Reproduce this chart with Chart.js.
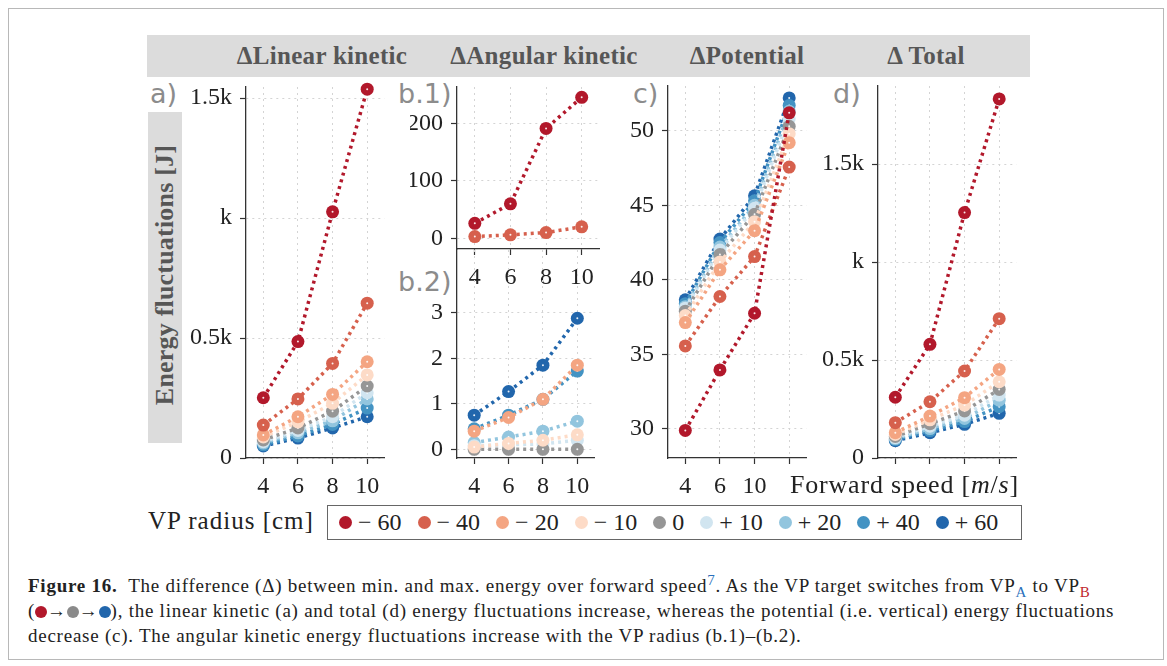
<!DOCTYPE html>
<html>
<head>
<meta charset="utf-8">
<script src="https://cdn.jsdelivr.net/npm/chart.js@4.4.1/dist/chart.umd.min.js"></script>
<style>
  body { margin: 0; width: 1167px; height: 666px; background: #fff; position: relative; overflow: hidden;
         font-family: "Liberation Serif", serif; color: #222; }
  .abs { position: absolute; }
  .frame { left: 8px; top: 8px; width: 1154px; height: 650px; border: 1px solid #b8b8b8; }
  .band { left: 147px; top: 35px; width: 883px; height: 42px; background: #dcdcdc; }
  .title { top: 35px; height: 42px; line-height: 42px; font-weight: bold; font-size: 25px; color: #565656;
           text-align: center; white-space: nowrap; letter-spacing: 0.3px; }
  .plab { font-family: "DejaVu Sans", sans-serif; font-size: 27px; color: #8c8c8c; line-height: 1; }
  .ybox { left: 148px; top: 112px; width: 34px; height: 331px; background: #dcdcdc; }
  .ytext { position: absolute; left: 17px; top: 163px; transform: translate(-50%, -50%) rotate(-90deg);
           white-space: nowrap; font-weight: bold; font-size: 26px; color: #565656; letter-spacing: 0.2px; }
  canvas { position: absolute; }
  .legend { left: 327px; top: 505px; width: 682px; height: 33px; border: 1.5px solid #666;
            display: flex; align-items: center; padding-left: 11px; box-sizing: content-box; }
  .item { display: flex; align-items: center; margin-right: 16px; font-size: 24px; white-space: nowrap; }
  .dot { display: inline-block; width: 13px; height: 13px; border-radius: 50%; margin-right: 6px; }
  .caption { left: 28px; top: 573px; font-size: 19px; line-height: 25px; white-space: nowrap; color: #222;
             letter-spacing: 0.75px; }
  .caption sub, .caption sup { font-size: 15px; line-height: 0; }
  .cdot { display: inline-block; width: 12px; height: 12px; border-radius: 50%; vertical-align: -1px; }
</style>
</head>
<body>
<div class="abs frame"></div>
<div class="abs band"></div>
<div class="abs title" style="left:222px;width:200px">ΔLinear kinetic</div>
<div class="abs title" style="left:444px;width:200px">ΔAngular kinetic</div>
<div class="abs title" style="left:647px;width:200px">ΔPotential</div>
<div class="abs title" style="left:826px;width:200px">Δ Total</div>

<div class="abs ybox"><div class="ytext">Energy fluctuations [J]</div></div>

<div class="abs plab" style="left:150px;top:80px">a)</div>
<div class="abs plab" style="left:398px;top:80px">b.1)</div>
<div class="abs plab" style="left:398px;top:268px">b.2)</div>
<div class="abs plab" style="left:633px;top:80px">c)</div>
<div class="abs plab" style="left:833px;top:80px">d)</div>

<canvas id="panelA" width="205" height="428" style="left:186px;top:70px"></canvas>
<canvas id="panelB1" width="196" height="219" style="left:410px;top:70px"></canvas>
<canvas id="panelB2" width="191" height="258" style="left:410px;top:240px"></canvas>
<canvas id="panelC" width="198" height="428" style="left:615px;top:70px"></canvas>
<canvas id="panelD" width="205" height="428" style="left:818px;top:70px"></canvas>

<div class="abs" style="left:790px;top:470px;font-size:26px;letter-spacing:0.8px;white-space:nowrap">Forward speed [<i>m</i>/<i>s</i>]</div>

<div class="abs" style="left:148px;top:507px;font-size:25px;letter-spacing:1px;white-space:nowrap">VP radius [cm]</div>
<div class="abs legend" id="legend"></div>

<div class="abs caption">
<b>Figure 16.</b>&nbsp; The difference (Δ) between min. and max. energy over forward speed<sup style="color:#2a6fbb">7</sup>. As the VP target switches from VP<sub style="color:#2a6fbb">A</sub> to VP<sub style="color:#c0272d">B</sub><br>
(<span class="cdot" style="background:#b2182b"></span>→<span class="cdot" style="background:#8a8a8a"></span>→<span class="cdot" style="background:#2166ac"></span>), the linear kinetic (a) and total (d) energy fluctuations increase, whereas the potential (i.e. vertical) energy fluctuations<br>
decrease (c). The angular kinetic energy fluctuations increase with the VP radius (b.1)–(b.2).
</div>

<script>
const speeds = [4, 6, 8, 10];
const radiusLabels = ['− 60', '− 40', '− 20', '− 10', '0', '+ 10', '+ 20', '+ 40', '+ 60'];
const radiusColors = ['#b2182b', '#d6604d', '#f4a582', '#fddbc7', '#969696', '#d1e5f0', '#92c5de', '#4393c3', '#2166ac'];

// one row per VP radius, one value per forward speed
const linearKinetic = [
    [251, 485, 1026, 1537],
    [137, 246, 394, 645],
    [96, 172, 265, 401],
    [88, 150, 228, 346],
    [75, 125, 195, 300],
    [68, 115, 172, 272],
    [62, 105, 155, 246],
    [55, 92, 140, 208],
    [50, 83, 125, 172]
];
// b.1 shows the two largest radii (-60, -40), b.2 the rest
const angularKinetic = [
    [26, 60, 191, 245],
    [3, 6, 10, 20],
    [0.4, 0.7, 1.1, 1.85],
    [0.05, 0.13, 0.2, 0.32],
    [0, 0, 0, 0],
    [0.08, 0.1, 0.12, 0.2],
    [0.15, 0.27, 0.4, 0.62],
    [0.45, 0.75, 1.1, 1.72],
    [0.75, 1.27, 1.85, 2.88]
];
const potential = [
    [29.9, 33.96, 37.76, 51.2],
    [35.57, 38.88, 41.56, 47.56],
    [37.13, 40.67, 43.3, 49.2],
    [37.6, 41.2, 43.9, 49.8],
    [37.9, 41.7, 44.4, 50.3],
    [38.1, 42.0, 44.8, 50.8],
    [38.2, 42.2, 45.0, 51.3],
    [38.4, 42.5, 45.3, 51.7],
    [38.66, 42.73, 45.64, 52.2]
];
const total = [
    [310, 580, 1252, 1832],
    [180, 287, 444, 711],
    [129, 214, 308, 452],
    [120, 195, 270, 389],
    [110, 175, 240, 350],
    [104, 162, 218, 321],
    [99, 150, 202, 295],
    [94, 140, 186, 262],
    [88, 129, 172, 228]
];

const kiloTicks = [0, 500, 1000, 1500];
const kiloTickLabels = ['0', '0.5k', 'k', '1.5k'];
const angularTopTicks = [0, 100, 200];
const angularLowTicks = [0, 1, 2, 3];
const potentialTicks = [30, 35, 40, 45, 50];
const potentialSpeedLabels = ['4', '6', '10', ''];

const tickFont = { family: "'Liberation Serif', serif", size: 24 };

// small white centre on each marker, drawn per dataset so covered markers stay covered
const centreDots = {
    id: 'centreDots',
    afterDatasetDraw(chart, args) {
        const { ctx, chartArea } = chart;
        ctx.save();
        ctx.fillStyle = 'rgba(255,255,255,0.9)';
        args.meta.data.forEach(pt => {
            if (pt.y < chartArea.top - 2 || pt.y > chartArea.bottom + 2) return;
            ctx.beginPath();
            ctx.arc(pt.x, pt.y, 1, 0, Math.PI * 2);
            ctx.fill();
        });
        ctx.restore();
    }
};

function makePanel(id, values, o) {
    const rows = o.rows || values.map((_, i) => i);
    const datasets = rows.map(i => ({
        label: radiusLabels[i],
        data: values[i].map((v, j) => ({ x: speeds[j], y: v })),
        borderColor: radiusColors[i],
        backgroundColor: radiusColors[i],
        borderWidth: 3.5,
        borderDash: [3, 4],
        pointRadius: 6.5,
        pointHoverRadius: 6.5,
        pointBorderWidth: 0,
        clip: false
    }));

    new Chart(document.getElementById(id), {
        type: 'line',
        data: { datasets },
        plugins: [centreDots],
        options: {
            animation: false,
            responsive: false,
            events: [],
            layout: { padding: { top: o.padTop, right: 6, left: 0, bottom: 0 } },
            plugins: { legend: { display: false }, tooltip: { enabled: false } },
            scales: {
                x: {
                    type: 'linear',
                    min: 3,
                    max: 11,
                    afterBuildTicks: s => { s.ticks = speeds.map(v => ({ value: v })); },
                    afterFit: s => { s.height = 40; s.paddingLeft = 0; s.paddingRight = 0; },
                    ticks: {
                        autoSkip: false, maxRotation: 0, padding: 8, color: '#222', font: tickFont,
                        callback: o.xLabel || (v => String(v))
                    },
                    grid: { color: '#d4d4d4', lineWidth: 1, tickLength: 6, tickColor: '#333', tickWidth: 1.2, tickBorderDash: [] },
                    border: { color: '#333', width: 1.3, dash: [2, 4] }
                },
                y: {
                    type: 'linear',
                    min: o.min,
                    max: o.max,
                    afterBuildTicks: s => { s.ticks = o.ticks.map(v => ({ value: v })); },
                    afterFit: s => { s.width = o.yW; s.paddingTop = 0; s.paddingBottom = 0; },
                    ticks: {
                        autoSkip: false, padding: 8, color: '#222', font: tickFont,
                        callback: (v, i) => o.labels ? o.labels[i] : String(v)
                    },
                    grid: { color: '#d4d4d4', lineWidth: 1, tickLength: 6, tickColor: '#333', tickWidth: 1.2, tickBorderDash: [] },
                    border: { color: '#333', width: 1.3, dash: [2, 4] }
                }
            }
        }
    });
}

makePanel('panelA', linearKinetic, { padTop: 17, yW: 60, min: 0, max: 1546, ticks: kiloTicks, labels: kiloTickLabels });
makePanel('panelB1', angularKinetic, { padTop: 17, yW: 47, min: -18.6, max: 263, ticks: angularTopTicks,
    rows: [0, 1] });
makePanel('panelB2', angularKinetic, { padTop: 10, yW: 47, min: -0.19, max: 4.38, ticks: angularLowTicks,
    rows: [2, 3, 4, 5, 6, 7, 8] });
makePanel('panelC', potential, { padTop: 16, yW: 53, min: 28.05, max: 53.0, ticks: potentialTicks,
    xLabel: (v, i) => potentialSpeedLabels[i] });
makePanel('panelD', total, { padTop: 16, yW: 60, min: 0, max: 1898, ticks: kiloTicks, labels: kiloTickLabels,
    xLabel: () => '' });

const legend = document.getElementById('legend');
radiusLabels.forEach((lab, i) => {
    const item = document.createElement('div');
    item.className = 'item';
    const dot = document.createElement('span');
    dot.className = 'dot';
    dot.style.background = radiusColors[i];
    item.appendChild(dot);
    item.appendChild(document.createTextNode(lab));
    legend.appendChild(item);
});
</script>
</body>
</html>
